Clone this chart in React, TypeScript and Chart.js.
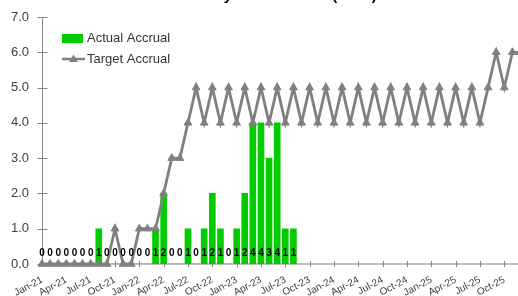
import React, { useEffect, useRef } from "react";
import { Chart, registerables } from "chart.js";

Chart.register(...registerables);

const categories = [
  "Jan-21", "Feb-21", "Mar-21", "Apr-21", "May-21", "Jun-21", "Jul-21", "Aug-21", "Sep-21", "Oct-21", "Nov-21", "Dec-21",
  "Jan-22", "Feb-22", "Mar-22", "Apr-22", "May-22", "Jun-22", "Jul-22", "Aug-22", "Sep-22", "Oct-22", "Nov-22", "Dec-22",
  "Jan-23", "Feb-23", "Mar-23", "Apr-23", "May-23", "Jun-23", "Jul-23", "Aug-23", "Sep-23", "Oct-23", "Nov-23", "Dec-23",
  "Jan-24", "Feb-24", "Mar-24", "Apr-24", "May-24", "Jun-24", "Jul-24", "Aug-24", "Sep-24", "Oct-24", "Nov-24", "Dec-24",
  "Jan-25", "Feb-25", "Mar-25", "Apr-25", "May-25", "Jun-25", "Jul-25", "Aug-25", "Sep-25", "Oct-25", "Nov-25", "Dec-25",
];

const actualAccrual = [
  0, 0, 0, 0, 0, 0, 0, 1, 0, 0, 0, 0,
  0, 0, 1, 2, 0, 0, 1, 0, 1, 2, 1, 0,
  1, 2, 4, 4, 3, 4, 1, 1,
];

const targetAccrual = [
  0, 0, 0, 0, 0, 0, 0, 0, 0, 1, 0, 0,
  1, 1, 1, 2, 3, 3, 4, 5, 4, 5, 4, 5,
  4, 5, 4, 5, 4, 5, 4, 5, 4, 5, 4, 5,
  4, 5, 4, 5, 4, 5, 4, 5, 4, 5, 4, 5,
  4, 5, 4, 5, 4, 5, 4, 5, 6, 5, 6, 6,
];

const yTicks = [0, 1, 2, 3, 4, 5, 6, 7];
const seriesNames = ["Actual Accrual", "Target Accrual"];
const titleText = "Monthly Accrual Rate (n=32)";

const GREEN = "#00cc00";
const GREY = "#808080";
const FONT = "'Liberation Sans', Arial, sans-serif";

const titlePlugin = {
  id: "clippedTitle",
  afterDraw(chart: any) {
    const ctx = chart.ctx;
    ctx.save();
    ctx.font = `bold 15px ${FONT}`;
    ctx.fillStyle = "#000";
    ctx.textBaseline = "alphabetic";
    ctx.textAlign = "left";
    const pre = ctx.measureText("Monthl").width;
    const yW = ctx.measureText("y").width;
    ctx.fillText(titleText, 228 - pre - yW / 2, -0.5);
    ctx.restore();
  },
};

const axesPlugin = {
  id: "excelAxes",
  beforeDatasetsDraw(chart: any) {
    const { ctx, chartArea, scales } = chart;
    const x = scales.x;
    const y = scales.y;
    ctx.save();
    ctx.strokeStyle = "#bfbfbf";
    ctx.lineWidth = 2;
    ctx.beginPath();
    ctx.moveTo(chartArea.left, chartArea.bottom);
    ctx.lineTo(chartArea.right, chartArea.bottom);
    ctx.stroke();
    ctx.strokeStyle = GREY;
    ctx.lineWidth = 1;
    categories.forEach((_, i) => {
      if (i % 3 !== 0) return;
      const px = Math.round(x.getPixelForValue(i)) + 0.5;
      ctx.beginPath();
      ctx.moveTo(px, chartArea.bottom - 3);
      ctx.lineTo(px, chartArea.bottom + 3);
      ctx.stroke();
    });
    const ax = Math.round(chartArea.left) + 0.5;
    ctx.strokeStyle = "#868686";
    ctx.beginPath();
    ctx.moveTo(ax, chartArea.top);
    ctx.lineTo(ax, chartArea.bottom);
    ctx.stroke();
    yTicks.forEach((v) => {
      const py = Math.round(y.getPixelForValue(v)) + 0.5;
      ctx.beginPath();
      ctx.moveTo(ax - 5, py);
      ctx.lineTo(ax + 5, py);
      ctx.stroke();
    });
    ctx.restore();
  },
};

const labelPlugin = {
  id: "barLabels",
  afterDatasetsDraw(chart: any) {
    const { ctx, chartArea } = chart;
    const meta = chart.getDatasetMeta(0);
    ctx.save();
    ctx.font = `bold 10px ${FONT}`;
    ctx.fillStyle = "#000";
    ctx.textAlign = "center";
    ctx.textBaseline = "middle";
    meta.data.forEach((el: any, i: number) => {
      const v = chart.data.datasets[0].data[i];
      if (v === null || v === undefined) return;
      ctx.fillText(String(v), el.x, chartArea.bottom - 11);
    });
    ctx.restore();
  },
};

const legendPlugin = {
  id: "insideLegend",
  afterDraw(chart: any) {
    const ctx = chart.ctx;
    ctx.save();
    ctx.fillStyle = GREEN;
    ctx.fillRect(62, 34, 21, 9);
    ctx.strokeStyle = GREY;
    ctx.lineWidth = 2.5;
    ctx.beginPath();
    ctx.moveTo(62, 59);
    ctx.lineTo(85, 59);
    ctx.stroke();
    ctx.fillStyle = GREY;
    ctx.beginPath();
    ctx.moveTo(73.5, 54.5);
    ctx.lineTo(78, 62);
    ctx.lineTo(69, 62);
    ctx.closePath();
    ctx.fill();
    ctx.font = `13px ${FONT}`;
    ctx.fillStyle = "#333";
    ctx.textAlign = "left";
    ctx.textBaseline = "middle";
    ctx.fillText(seriesNames[0], 87, 38.5);
    ctx.fillText(seriesNames[1], 87, 59);
    ctx.restore();
  },
};

export default function App() {
  const ref = useRef<HTMLCanvasElement>(null);

  useEffect(() => {
    if (!ref.current) return;
    const barData = categories.map((_, i) => (i < actualAccrual.length ? actualAccrual[i] : null));
    const chart = new Chart(ref.current, {
      type: "bar",
      data: {
        labels: categories,
        datasets: [
          {
            type: "bar",
            label: seriesNames[0],
            data: barData,
            backgroundColor: GREEN,
            borderWidth: 0,
            barThickness: 6,
            order: 2,
          } as any,
          {
            type: "line",
            label: seriesNames[1],
            data: targetAccrual,
            borderColor: GREY,
            backgroundColor: GREY,
            borderWidth: 2.8,
            tension: 0,
            pointStyle: "triangle",
            pointRadius: 4.5,
            pointBorderWidth: 1,
            pointBorderColor: GREY,
            pointBackgroundColor: GREY,
            clip: false,
            order: 1,
          } as any,
        ],
      },
      options: {
        animation: false,
        responsive: false,
        devicePixelRatio: 1,
        layout: { padding: { top: 17, right: 0, bottom: 0, left: 0 } },
        plugins: {
          legend: { display: false },
          title: { display: false },
          tooltip: { enabled: false },
        },
        scales: {
          x: {
            type: "category",
            offset: false,
            grid: { display: false, drawTicks: false },
            border: { display: false },
            ticks: {
              autoSkip: false,
              maxRotation: 28,
              minRotation: 28,
              padding: 10,
              color: "#404040",
              font: { family: FONT, size: 10 },
              callback: function (this: any, value: any, index: number) {
                return index % 3 === 0 ? categories[index] : "";
              },
            },
            afterFit: (s: any) => {
              s.height = 32;
              s.paddingRight = 0;
              s.paddingLeft = 0;
            },
          },
          y: {
            min: 0,
            max: 7,
            grid: { display: false, drawTicks: false },
            border: { display: false },
            ticks: {
              stepSize: 1,
              padding: 13,
              color: "#404040",
              font: { family: FONT, size: 13 },
              callback: (v: any) => Number(v).toFixed(1),
            },
            afterFit: (s: any) => {
              s.width = 42;
              s.paddingTop = 0;
              s.paddingBottom = 0;
            },
          },
        },
      },
      plugins: [axesPlugin, labelPlugin, legendPlugin, titlePlugin],
    });
    return () => chart.destroy();
  }, []);

  return (
    <div
      style={{
        position: "absolute",
        left: 0,
        top: 0,
        width: 518,
        height: 296,
        overflow: "hidden",
        background: "#fff",
      }}
    >
      <canvas ref={ref} width={526} height={296} style={{ display: "block" }} />
    </div>
  );
}
